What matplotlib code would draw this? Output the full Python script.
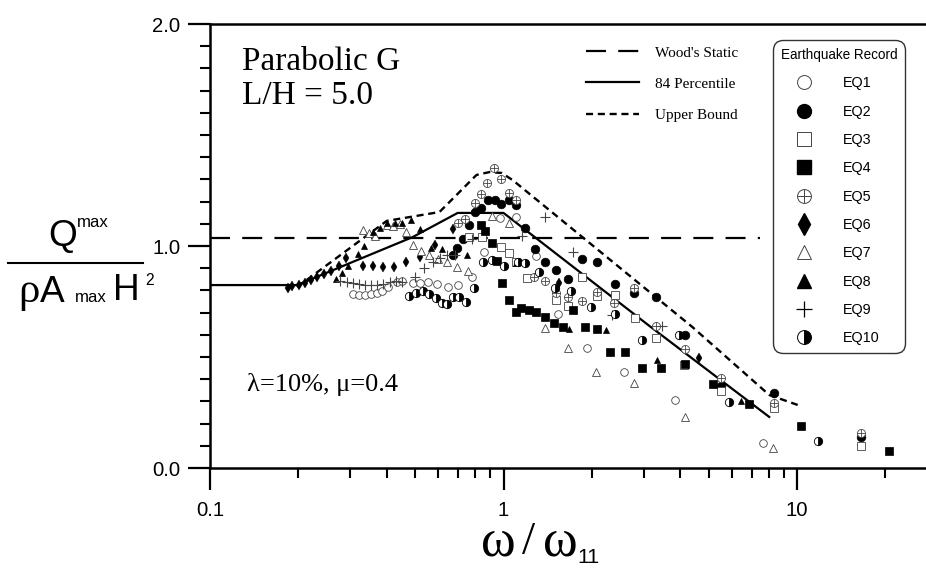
import matplotlib
matplotlib.use('Agg')
import matplotlib.pyplot as plt
from matplotlib import font_manager
from matplotlib.lines import Line2D
from matplotlib.legend_handler import HandlerTuple
from matplotlib.ticker import MultipleLocator, LogLocator, NullFormatter, FixedLocator, FixedFormatter

# ---------------- data ----------------
X_TICKS = [0.1, 1, 10]
X_TICK_LABELS = ['0.1', '1', '10']
Y_TICKS = [0.0, 1.0, 2.0]
Y_TICK_LABELS = ['0.0', '1.0', '2.0']

WOOD_X = [0.1, 7.5]
WOOD_Y = [1.036, 1.036]

P84_X = [0.1, 0.198, 0.306, 0.490, 0.698, 1.0, 3.14, 8.04]
P84_Y = [0.824, 0.824, 0.928, 1.04, 1.149, 1.149, 0.64, 0.23]

UB_X = [0.198, 0.400, 0.605, 0.809, 0.895, 0.985, 1.074, 4.40, 8.04, 10.05]
UB_Y = [0.815, 1.113, 1.153, 1.320, 1.333, 1.329, 1.297, 0.635, 0.329, 0.284]

EQ1_X = [0.306, 0.321, 0.337, 0.353, 0.370, 0.385, 0.403, 0.432, 0.450, 0.490, 0.518, 0.551, 0.592,
         0.645, 0.698, 0.778, 0.861, 0.969, 1.107, 1.295, 1.538, 1.93, 2.58, 3.85, 7.66]
EQ1_Y = [0.784, 0.779, 0.779, 0.784, 0.788, 0.797, 0.815, 0.838, 0.842, 0.833, 0.833, 0.838, 0.829,
         0.815, 0.824, 0.860, 0.973, 1.126, 1.131, 0.955, 0.694, 0.541, 0.432, 0.306, 0.113]

EQ2_X = [0.671, 0.692, 0.726, 0.760, 0.797, 0.835, 0.882, 0.932, 0.984, 1.040, 1.107, 1.188, 1.285,
         1.389, 1.514, 1.664, 1.857, 2.09, 2.39, 2.79, 3.31, 4.16, 5.51, 8.35, 16.5]
EQ2_Y = [0.959, 0.991, 1.032, 1.095, 1.153, 1.171, 1.207, 1.207, 1.189, 1.207, 1.185, 1.081, 0.986,
         0.928, 0.892, 0.851, 0.941, 0.928, 0.829, 0.788, 0.770, 0.599, 0.369, 0.338, 0.140]

EQ3_X = [0.760, 0.842, 0.984, 1.048, 1.099, 1.198, 1.515, 1.664, 1.857, 2.09, 2.40, 2.81, 3.31,
         4.13, 5.51, 8.35, 16.5]
EQ3_Y = [1.041, 1.041, 0.995, 0.968, 0.928, 0.856, 0.757, 0.730, 0.860, 0.775, 0.779, 0.676, 0.586,
         0.464, 0.347, 0.270, 0.099]

EQ4_X = [0.835, 0.868, 0.910, 0.947, 0.992, 1.040, 1.099, 1.151, 1.226, 1.295, 1.389, 1.491, 1.600,
         1.73, 1.90, 2.09, 2.31, 2.60, 2.97, 3.45, 4.16, 5.18, 6.86, 10.3, 20.5]
EQ4_Y = [1.095, 1.068, 1.014, 0.932, 0.833, 0.757, 0.703, 0.721, 0.712, 0.703, 0.680, 0.653, 0.635,
         0.712, 0.635, 0.626, 0.523, 0.523, 0.450, 0.450, 0.468, 0.378, 0.288, 0.189, 0.077]

EQ5_X = [0.698, 0.737, 0.797, 0.835, 0.875, 0.925, 0.984, 1.040, 1.107, 1.275, 1.389, 1.515, 1.664,
         1.857, 2.09, 2.38, 2.79, 3.31, 4.16, 5.51, 8.35, 16.5]
EQ5_Y = [1.104, 1.122, 1.194, 1.234, 1.284, 1.351, 1.302, 1.239, 1.207, 0.860, 0.842, 0.788, 0.770,
         0.752, 0.793, 0.743, 0.811, 0.640, 0.536, 0.405, 0.293, 0.158]

EQ6_X = [0.184, 0.191, 0.201, 0.211, 0.221, 0.231, 0.244, 0.258, 0.275, 0.290, 0.331, 0.358, 0.387,
         0.423, 0.464, 0.518, 0.582, 0.671, 1.550, 4.64]
EQ6_Y = [0.811, 0.820, 0.824, 0.833, 0.847, 0.860, 0.874, 0.887, 0.910, 0.946, 0.910, 0.910, 0.905,
         0.905, 0.928, 0.950, 1.005, 1.077, 0.833, 0.495]

EQ7_X = [0.331, 0.347, 0.364, 0.400, 0.419, 0.443, 0.464, 0.490, 0.522, 0.556, 0.596, 0.640, 0.692,
         0.754, 0.917, 1.040, 1.389, 1.664, 2.07, 2.79, 4.16, 8.28]
EQ7_Y = [1.072, 1.059, 1.045, 1.095, 1.090, 1.099, 1.063, 1.005, 0.977, 0.959, 0.941, 0.928, 0.905,
         0.887, 1.135, 1.104, 0.631, 0.541, 0.432, 0.383, 0.230, 0.090]

EQ8_X = [0.268, 0.281, 0.295, 0.319, 0.334, 0.358, 0.379, 0.400, 0.426, 0.450, 0.483, 0.518, 0.565,
         0.615, 0.748, 1.107, 1.676, 2.24, 3.34, 6.45]
EQ8_Y = [0.851, 0.878, 0.910, 0.964, 1.000, 1.063, 1.081, 1.104, 1.104, 1.104, 1.117, 1.077, 0.991,
         0.986, 0.959, 0.923, 0.626, 0.622, 0.486, 0.302]

EQ9_X = [0.277, 0.292, 0.306, 0.321, 0.337, 0.353, 0.370, 0.387, 0.409, 0.429, 0.450, 0.498, 0.534,
         0.573, 0.606, 0.640, 0.681, 0.778, 1.160, 1.389, 1.73, 2.35, 3.47]
EQ9_Y = [0.842, 0.838, 0.833, 0.829, 0.824, 0.824, 0.824, 0.829, 0.838, 0.842, 0.838, 0.860, 0.901,
         0.928, 0.946, 0.959, 0.959, 1.032, 1.045, 1.131, 0.973, 0.689, 0.640]

EQ10_X = [0.475, 0.502, 0.530, 0.556, 0.587, 0.615, 0.640, 0.671, 0.703, 0.743, 0.791, 0.848, 0.917,
          1.000, 1.116, 1.188, 1.326, 1.503, 1.70, 1.99, 2.39, 2.97, 3.97, 5.88, 11.8]
EQ10_Y = [0.775, 0.788, 0.797, 0.784, 0.766, 0.743, 0.739, 0.770, 0.770, 0.748, 0.811, 0.928, 0.937,
          0.910, 0.928, 0.923, 0.883, 0.811, 0.797, 0.725, 0.694, 0.577, 0.599, 0.297, 0.122]

EQ_NAMES = ['EQ1', 'EQ2', 'EQ3', 'EQ4', 'EQ5', 'EQ6', 'EQ7', 'EQ8', 'EQ9', 'EQ10']
LINE_LABELS = ["Wood's Static", '84 Percentile', 'Upper Bound']


# ---------------- fonts ----------------
def has_font(name):
    try:
        font_manager.findfont(font_manager.FontProperties(family=name), fallback_to_default=False)
        return True
    except Exception:
        return False


NARROW = has_font('Liberation Sans Narrow')
SANS = 'Liberation Sans Narrow' if NARROW else 'Liberation Sans'
SC = 1.0 if NARROW else 0.86
SERIF = 'Liberation Serif'
plt.rcParams['font.family'] = [SANS, 'DejaVu Sans']

W, H = 926, 569
fig = plt.figure(figsize=(W / 100, H / 100), dpi=100)


def F(x, y):
    return (x / W, 1 - y / H)


ax = fig.add_axes([210 / W, (H - 468) / H, (W - 210) / W, (468 - 24) / H])
ax.set_xscale('log')
ax.set_xlim(0.1, 27.5)
ax.set_ylim(0, 2.0)

for s in ['left', 'bottom', 'top']:
    ax.spines[s].set_linewidth(1.8)
ax.spines['right'].set_visible(False)

ax.xaxis.set_major_locator(FixedLocator(X_TICKS))
ax.xaxis.set_major_formatter(FixedFormatter(X_TICK_LABELS))
ax.xaxis.set_minor_locator(LogLocator(base=10, subs=[2, 3, 4, 5, 6, 7, 8, 9]))
ax.xaxis.set_minor_formatter(NullFormatter())
ax.yaxis.set_major_locator(FixedLocator(Y_TICKS))
ax.yaxis.set_major_formatter(FixedFormatter(Y_TICK_LABELS))
ax.yaxis.set_minor_locator(MultipleLocator(0.1))

ax.tick_params(which='major', direction='out', length=15.8, width=1.6, labelsize=17 * SC)
ax.tick_params(which='minor', direction='out', length=7.2, width=1.5)
ax.tick_params(axis='y', which='major', pad=5.5)
ax.tick_params(axis='x', which='major', pad=8.0)

# ---------------- lines ----------------
l_ws, = ax.plot(WOOD_X, WOOD_Y, color='k', lw=1.6, dashes=(9, 5.5))
l_84, = ax.plot(P84_X, P84_Y, color='k', lw=1.6, solid_joinstyle='miter')
l_ub, = ax.plot(UB_X, UB_Y, color='k', lw=1.7, dashes=(3.0, 2.0))

# ---------------- scatter series ----------------
EC = '#444444'
ax.plot(EQ1_X, EQ1_Y, ls='none', marker='o', ms=5.5, mfc='white', mec=EC, mew=0.6, zorder=3)
ax.plot(EQ2_X, EQ2_Y, ls='none', marker='o', ms=6.2, mfc='black', mec='black', mew=0.5, zorder=3)
ax.plot(EQ3_X, EQ3_Y, ls='none', marker='s', ms=5.5, mfc='white', mec=EC, mew=0.6, zorder=3)
ax.plot(EQ4_X, EQ4_Y, ls='none', marker='s', ms=5.2, mfc='black', mec='black', mew=0.5, zorder=3)
ax.plot(EQ5_X, EQ5_Y, ls='none', marker='o', ms=5.8, mfc='white', mec=EC, mew=0.6, zorder=3)
ax.plot(EQ5_X, EQ5_Y, ls='none', marker='+', ms=5.8, mec=EC, mew=0.6, zorder=3)
ax.plot(EQ6_X, EQ6_Y, ls='none', marker='d', ms=4.6, mfc='black', mec='black', mew=0.3, zorder=3)
ax.plot(EQ7_X, EQ7_Y, ls='none', marker='^', ms=5.3, mfc='white', mec=EC, mew=0.6, zorder=3)
ax.plot(EQ8_X, EQ8_Y, ls='none', marker='^', ms=5.0, mfc='black', mec='black', mew=0.5, zorder=3)
ax.plot(EQ9_X, EQ9_Y, ls='none', marker='+', ms=7, mec=EC, mew=0.8, zorder=3)
ax.plot(EQ10_X, EQ10_Y, ls='none', marker='o', ms=6, fillstyle='right', mfc='black',
        markerfacecoloralt='white', mec='black', mew=0.6, zorder=3)

# ---------------- legends ----------------
leg1 = ax.legend(handles=[l_ws, l_84, l_ub], labels=LINE_LABELS, loc='upper left',
                 bbox_to_anchor=F(586, 46), bbox_transform=fig.transFigure,
                 frameon=False, borderpad=0, borderaxespad=0, handlelength=3.5,
                 handletextpad=1.0, labelspacing=1.14,
                 prop={'family': SERIF, 'size': 11})
ax.add_artist(leg1)

LH = 10
eq_handles = [
    Line2D([], [], ls='none', marker='o', ms=LH, mfc='white', mec=EC, mew=0.7),
    Line2D([], [], ls='none', marker='o', ms=LH, mfc='black', mec='black'),
    Line2D([], [], ls='none', marker='s', ms=LH * 0.95, mfc='white', mec=EC, mew=0.7),
    Line2D([], [], ls='none', marker='s', ms=LH * 0.95, mfc='black', mec='black'),
    (Line2D([], [], ls='none', marker='o', ms=LH, mfc='white', mec=EC, mew=0.7),
     Line2D([], [], ls='none', marker='+', ms=LH, mec=EC, mew=0.7)),
    Line2D([], [], ls='none', marker='d', ms=LH * 1.1, mfc='black', mec='black'),
    Line2D([], [], ls='none', marker='^', ms=LH, mfc='white', mec=EC, mew=0.7),
    Line2D([], [], ls='none', marker='^', ms=LH, mfc='black', mec='black'),
    Line2D([], [], ls='none', marker='+', ms=LH * 1.2, mec='black', mew=0.9),
    Line2D([], [], ls='none', marker='o', ms=LH, fillstyle='right', mfc='black',
           markerfacecoloralt='white', mec='black', mew=0.7),
]
LEG_FS = 12 * SC
leg2 = ax.legend(handles=eq_handles, labels=EQ_NAMES, title='Earthquake Record',
                 loc='upper left', bbox_to_anchor=F(773, 40), bbox_transform=fig.transFigure,
                 borderaxespad=0, borderpad=0.55, handlelength=3.2, handletextpad=1.1,
                 labelspacing=1.0, fancybox=True, framealpha=1, edgecolor='#333333',
                 prop={'family': SANS, 'size': LEG_FS},
                 title_fontproperties={'family': SANS, 'size': LEG_FS * 0.945},
                 alignment='left', handler_map={tuple: HandlerTuple(ndivide=1)})
leg2.get_frame().set_linewidth(1.0)
leg2.get_frame().set_boxstyle('round,pad=0,rounding_size=0.7')

# ---------------- annotations ----------------
fig.text(*F(242, 70), 'Parabolic G', family=SERIF, fontsize=24, va='baseline')
fig.text(*F(242, 104), 'L/H = 5.0', family=SERIF, fontsize=24, va='baseline')
fig.text(*F(247, 391), 'λ=10%, μ=0.4', family=SERIF, fontsize=19, va='baseline')

# x label  ω / ω11
fig.text(*F(481, 556), 'ω', family=SERIF, fontsize=38, va='baseline')
fig.text(*F(522, 554), '/', family=SERIF, fontsize=34, va='baseline')
fig.text(*F(543, 556), 'ω', family=SERIF, fontsize=38, va='baseline')
fig.text(*F(577, 563), '11', fontsize=18 * SC, va='baseline')

# y label  Q^max / (rho A_max H^2)
fig.text(*F(48, 246), 'Q', fontsize=31 * SC, va='baseline')
fig.text(*F(77, 227), 'max', fontsize=14 * SC, va='baseline')
fig.add_artist(Line2D([8 / W, 143 / W], [1 - 263 / H, 1 - 263 / H], color='k', lw=1.5,
                      transform=fig.transFigure))
fig.text(*F(18, 302), 'ρ', family=SERIF, fontsize=31, va='baseline')
fig.text(*F(40, 302), 'A', fontsize=31 * SC, va='baseline')
fig.text(*F(75, 302), 'max', fontsize=14 * SC, va='baseline')
fig.text(*F(113, 300), 'H', fontsize=31 * SC, va='baseline')
fig.text(*F(145, 285), '2', fontsize=13 * SC, va='baseline')

fig.savefig('out.png', dpi=100)
